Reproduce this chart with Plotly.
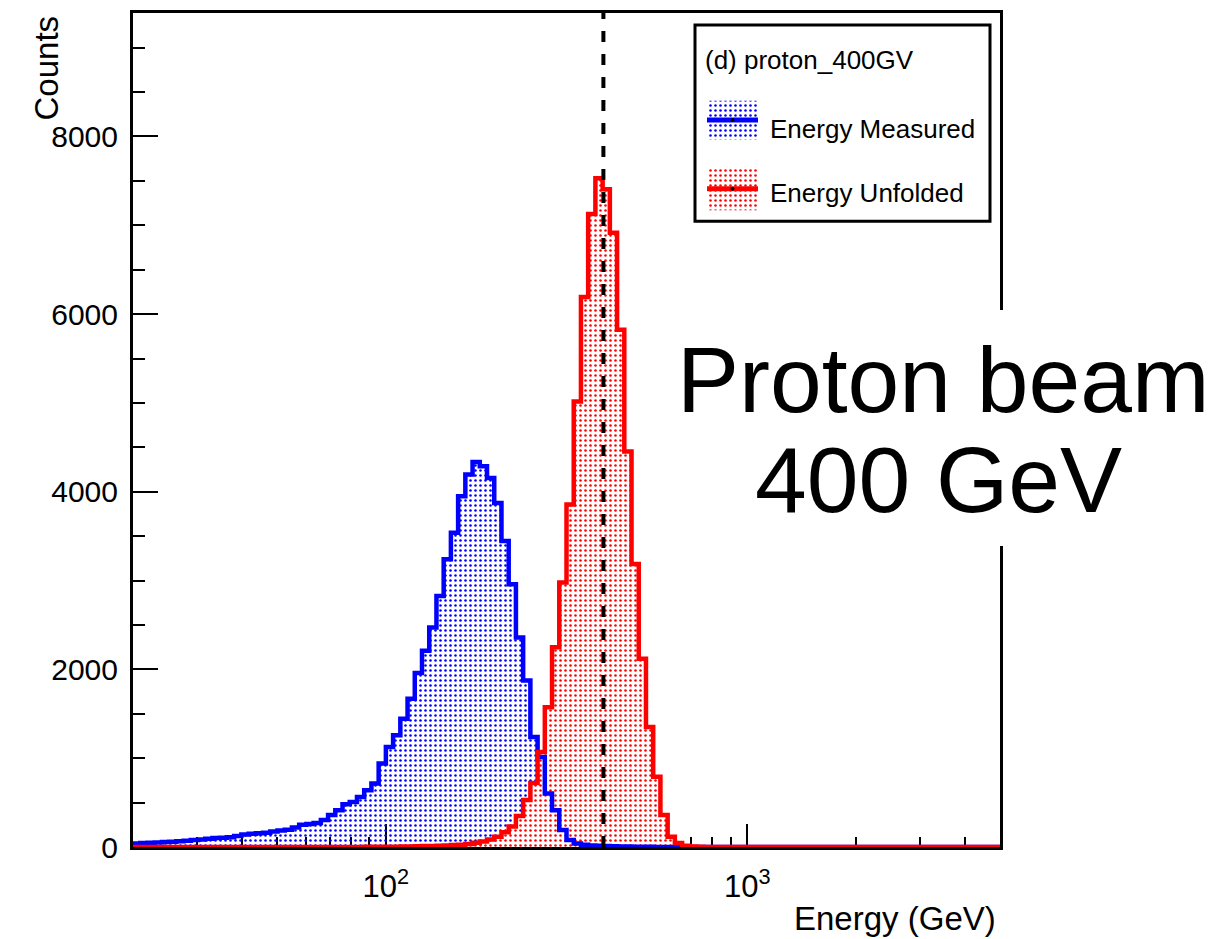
import numpy as np
import plotly.graph_objects as go

# ---------------- data ----------------
E_MIN, E_MAX, N_BINS = 20.0, 5000.0, 120      # log-spaced energy bins (GeV)
BEAM_ENERGY = 400                              # GeV, dashed reference line

measured_counts = [
    40, 44, 47, 50, 55, 60, 65, 70, 78, 85, 92, 100, 105,
    110, 125, 140, 150, 155, 160,
    175, 185, 195,
    220, 250, 258,
    270, 303, 359, 415, 480, 508, 564, 640, 715, 939,
    1125, 1257, 1444, 1668, 1960, 2210, 2472, 2827, 3239, 3538,
    3950, 4193, 4334, 4286, 4155, 3874, 3444, 2959, 2360, 1874,
    1238, 1013, 602, 415, 190, 79, 40, 25, 18, 14,
    10, 8, 6, 5, 4, 3, 2, 1,
] + [0] * 47

unfolded_counts = [0] * 30 + [
    1, 1, 2, 2, 3, 3, 4, 5, 6, 8, 10, 12, 15, 18, 22,
    26, 35, 48, 62, 85, 115, 165, 230, 350, 530,
    720, 1070, 1574, 2248, 2977, 3856, 5015, 6193, 7128, 7530,
    7405, 6915, 5823, 4454, 3186, 2120, 1350, 790, 360, 116,
    45, 15, 5, 2,
] + [0] * 41

x_tick_vals = [100, 1000]
x_tick_text = ["10<sup>2</sup>", "10<sup>3</sup>"]
x_minor_vals = [30, 40, 50, 60, 70, 80, 90, 200, 300, 400, 500, 600, 700, 800, 900,
                2000, 3000, 4000, 5000]
Y_MAX = 9390

legend_header = "(d) proton_400GV"
series_names = ["Energy Measured", "Energy Unfolded"]
series_colors = ["rgb(0,0,255)", "rgb(255,0,0)"]
note_lines = ["Proton beam", "400 GeV"]

# ---------------- geometry ----------------
W, H = 1213, 939
L, R, T, B = 133, 1000, 10, 847
FONT = "Liberation Sans, Arial, Helvetica, sans-serif"
PAT_SIZE, PAT_SOLIDITY = 5, 0.2


def px(xp):
    return (xp - L) / (R - L)


def py(yp):
    return (B - yp) / (B - T)


edges = np.logspace(np.log10(E_MIN), np.log10(E_MAX), N_BINS + 1)


def step_xy(counts):
    return list(edges), list(counts) + [counts[-1]]


def pattern(col, bg):
    return dict(shape=".", fgcolor=col, bgcolor=bg, size=PAT_SIZE,
                solidity=PAT_SOLIDITY, fillmode="replace")


fig = go.Figure()
all_counts = [measured_counts, unfolded_counts]
fill_bgs = ["rgba(255,255,255,0)", "white"]

# fills first (red fill hides blue dots where they overlap) ...
for name, counts, col, bg in zip(series_names, all_counts, series_colors, fill_bgs):
    xs, ys = step_xy(counts)
    fig.add_trace(go.Scatter(
        x=xs, y=ys, mode="none", name=name, showlegend=False, hoverinfo="skip",
        line=dict(shape="hv"), fill="tozeroy", fillcolor="rgba(255,255,255,0)",
        fillpattern=pattern(col, bg),
    ))
# ... then both outlines on top
for name, counts, col in zip(series_names, all_counts, series_colors):
    xs, ys = step_xy(counts)
    fig.add_trace(go.Scatter(
        x=xs, y=ys, mode="lines", name=name, showlegend=False,
        line=dict(color=col, width=4.5, shape="hv"),
    ))

# ---- hand-made ROOT-style legend (swatches on a pixel overlay axis) ----
LEG_X0, LEG_X1, LEG_Y0, LEG_Y1 = 695, 990, 22, 219
sw_x0, sw_x1 = 707, 758
sw_rows = [(98, 137), (165, 208)]
for (y0, y1), col in zip(sw_rows, series_colors):
    fig.add_trace(go.Scatter(
        x=[sw_x0, sw_x1, sw_x1, sw_x0, sw_x0], y=[y0, y0, y1, y1, y0],
        xaxis="x2", yaxis="y2", mode="none", fill="toself",
        fillcolor="rgba(255,255,255,0)", showlegend=False, hoverinfo="skip",
        fillpattern=pattern(col, "rgba(255,255,255,0)"),
    ))
    yc = (y0 + y1) / 2
    fig.add_trace(go.Scatter(
        x=[sw_x0, sw_x1], y=[yc, yc], xaxis="x2", yaxis="y2", mode="lines",
        line=dict(color=col, width=5), showlegend=False, hoverinfo="skip",
    ))
    fig.add_trace(go.Scatter(
        x=[(sw_x0 + sw_x1) / 2], y=[yc], xaxis="x2", yaxis="y2", mode="markers",
        marker=dict(color="black", size=4), showlegend=False, hoverinfo="skip",
    ))

shapes = [
    # dashed beam-energy line
    dict(type="line", xref="x", yref="paper", x0=BEAM_ENERGY, x1=BEAM_ENERGY, y0=0, y1=1,
         line=dict(color="black", width=4, dash="11px,12px"), layer="above"),
    # legend frame
    dict(type="rect", xref="paper", yref="paper", x0=px(LEG_X0), x1=px(LEG_X1),
         y0=py(LEG_Y1), y1=py(LEG_Y0), line=dict(color="black", width=3),
         fillcolor="rgba(0,0,0,0)", layer="above"),
    # white box behind the big note (hides the right frame)
    dict(type="rect", xref="paper", yref="paper", x0=px(652), x1=px(1213 + 5),
         y0=py(545), y1=py(308), line=dict(width=0), fillcolor="white", layer="above"),
]

annotations = [
    dict(text=legend_header, x=px(703), y=py(57), xanchor="left", yanchor="middle",
         font=dict(size=26, family=FONT, color="black")),
    dict(text=series_names[0], x=px(768), y=py(126), xanchor="left", yanchor="middle",
         font=dict(size=26, family=FONT, color="black")),
    dict(text=series_names[1], x=px(768), y=py(191), xanchor="left", yanchor="middle",
         font=dict(size=26, family=FONT, color="black")),
    dict(text=note_lines[0], x=px(943), y=py(378), xanchor="center", yanchor="middle",
         font=dict(size=93, family=FONT, color="black")),
    dict(text=note_lines[1], x=px(938), y=py(479), xanchor="center", yanchor="middle",
         font=dict(size=93, family=FONT, color="black")),
    dict(text="Counts", x=px(46), y=py(11), xanchor="center", yanchor="top", textangle=-90,
         font=dict(size=33, family=FONT, color="black")),
    dict(text="Energy (GeV)", x=px(998), y=py(919), xanchor="right", yanchor="middle",
         font=dict(size=33, family=FONT, color="black")),
]
for a in annotations:
    a.update(xref="paper", yref="paper", showarrow=False)

fig.update_layout(
    width=W, height=H,
    margin=dict(l=L, r=W - R, t=T, b=H - B, pad=0),
    paper_bgcolor="white", plot_bgcolor="white",
    font=dict(family=FONT, color="black"),
    showlegend=False,
    shapes=shapes, annotations=annotations,
    xaxis=dict(
        type="log", range=[np.log10(E_MIN), np.log10(E_MAX)],
        showgrid=False, zeroline=False,
        showline=True, linecolor="black", linewidth=3, mirror=True,
        tickmode="array", tickvals=x_tick_vals, ticktext=x_tick_text,
        ticks="inside", ticklen=23, tickwidth=2, tickcolor="black",
        tickfont=dict(size=31, family=FONT, color="black"),
        ticklabelstandoff=10,
        minor=dict(tickmode="array", tickvals=x_minor_vals, ticks="inside",
                   ticklen=10, tickwidth=2, tickcolor="black", showgrid=False),
        layer="below traces",
    ),
    yaxis=dict(
        range=[0, Y_MAX], showgrid=False, zeroline=False,
        showline=True, linecolor="black", linewidth=3, mirror=True,
        tick0=0, dtick=2000, tickformat="d",
        ticks="inside", ticklen=25, tickwidth=2, tickcolor="black",
        tickfont=dict(size=30, family=FONT, color="black"),
        ticklabelstandoff=6,
        minor=dict(dtick=500, ticks="inside", ticklen=12, tickwidth=2,
                   tickcolor="black", showgrid=False),
    ),
    xaxis2=dict(overlaying="x", range=[L, R], visible=False, showgrid=False, zeroline=False),
    yaxis2=dict(overlaying="y", range=[B, T], visible=False, showgrid=False, zeroline=False),
)

fig.write_html("out.html")
